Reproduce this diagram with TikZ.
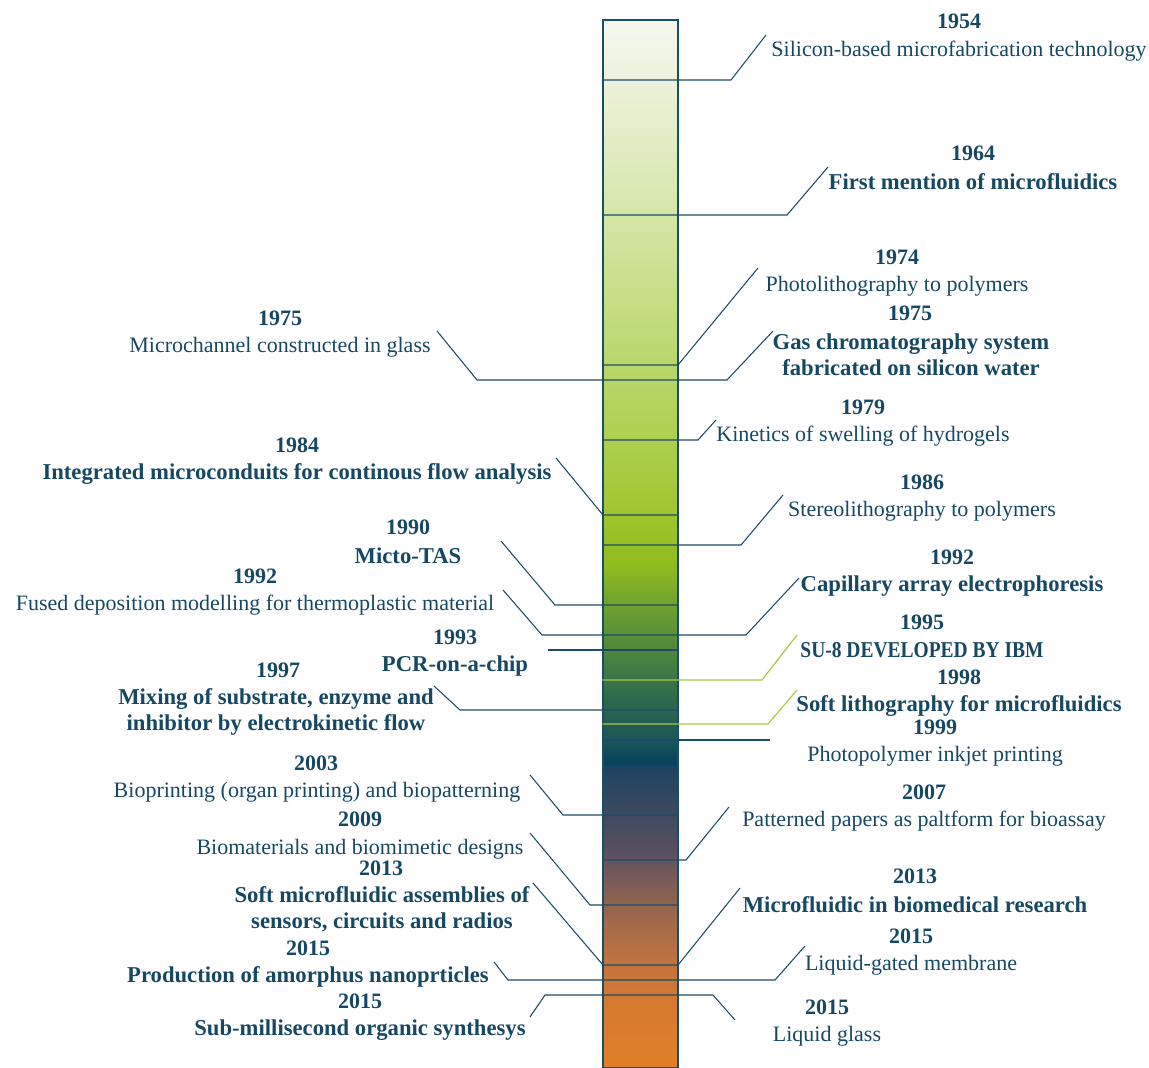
\documentclass[tikz,border=0pt]{standalone}
\usepackage{fontspec}
\setmainfont{Liberation Serif}
\usepackage{tikz}
\usetikzlibrary{positioning,calc}

\definecolor{ink}{HTML}{1B4D66}
\definecolor{inktext}{HTML}{164862}
\definecolor{limeline}{HTML}{A9C94A}
\definecolor{s0}{HTML}{F6F8EF}
\definecolor{s1}{HTML}{ECF2DC}
\definecolor{s2}{HTML}{D5E6A7}
\definecolor{s3}{HTML}{B8D669}
\definecolor{s4}{HTML}{ACD04F}
\definecolor{s5}{HTML}{9EC52E}
\definecolor{s6}{HTML}{8FBC1F}
\definecolor{s7}{HTML}{6FA030}
\definecolor{s8}{HTML}{4E863E}
\definecolor{s9}{HTML}{2E684E}
\definecolor{s10}{HTML}{1A5658}
\definecolor{s11}{HTML}{06405E}
\definecolor{s12}{HTML}{1F4363}
\definecolor{s13}{HTML}{3B4A60}
\definecolor{s14}{HTML}{5A5060}
\definecolor{s15}{HTML}{7A5C57}
\definecolor{s16}{HTML}{A06A4A}
\definecolor{s17}{HTML}{C0733F}
\definecolor{s18}{HTML}{D57A30}
\definecolor{s19}{HTML}{E07F28}

\pgfdeclareverticalshading{timebar}{100bp}{color(0bp)=(s19); color(25bp)=(s19);
  color(28.20bp)=(s18); color(30.11bp)=(s17); color(32.02bp)=(s16); color(33.93bp)=(s15);
  color(35.36bp)=(s14); color(37.27bp)=(s13); color(39.33bp)=(s12); color(39.57bp)=(s11);
  color(40.62bp)=(s10); color(42.53bp)=(s9); color(44.91bp)=(s8); color(47.06bp)=(s7);
  color(48.97bp)=(s6); color(51.36bp)=(s5); color(54.94bp)=(s4); color(58.29bp)=(s3);
  color(65.69bp)=(s2); color(72.13bp)=(s1); color(75bp)=(s0); color(100bp)=(s0)}

\begin{document}
\begin{tikzpicture}[
  x=0.75pt, y=-0.75pt,
  font=\fontsize{16.5}{19.5}\selectfont, text=inktext,
  yr/.style={inner sep=0pt, yshift=-1pt, font=\fontsize{16.5}{19.5}\selectfont\bfseries},
  evt/.style={inner sep=0pt, yshift=-1.5pt, align=center},
  evtb/.style={inner sep=0pt, yshift=-1.5pt, align=center, font=\fontsize{17}{19.5}\selectfont\bfseries},
  link/.style={draw=ink, line width=0.8pt},
  lime/.style={draw=limeline, line width=0.9pt}
]
\useasboundingbox (0,0) rectangle (1149,1067);

\node[draw=ink, line width=0.8pt, shading=timebar, inner sep=0pt,
  minimum width=56.25pt, minimum height=786pt] (bar) at (640.5,544) {};

% right side
\node[yr] (y1954) at (959,20) {1954};
\node[evt] (t1954) at (959,49) {Silicon-based microfabrication technology};
\node[yr] (y1964) at (973,152) {1964};
\node[evtb] (t1964) at (973,180) {First mention of microfluidics};
\node[yr] (y1974) at (897,256) {1974};
\node[evt] (t1974) at (897,284) {Photolithography to polymers};
\node[yr] (y1975b) at (910,312) {1975};
\node[evtb] (t1975b) at (911,353) {Gas chromatography system\\fabricated on silicon water};
\node[yr] (y1979) at (863,406) {1979};
\node[evt] (t1979) at (863,434) {Kinetics of swelling of hydrogels};
\node[yr] (y1986) at (922,481) {1986};
\node[evt] (t1986) at (922,509) {Stereolithography to polymers};
\node[yr] (y1992b) at (952,556) {1992};
\node[evtb] (t1992b) at (952,584) {Capillary array electrophoresis};
\node[yr] (y1995) at (922,621) {1995};
\node[evtb] (t1995) at (922,648) {\scalebox{0.86}[1]{SU-8 DEVELOPED BY IBM}};
\node[yr] (y1998) at (959,676) {1998};
\node[evtb] (t1998) at (959,704) {Soft lithography for microfluidics};
\node[yr] (y1999) at (935,726) {1999};
\node[evt] (t1999) at (935,754) {Photopolymer inkjet printing};
\node[yr] (y2007) at (924,791) {2007};
\node[evt] (t2007) at (924,819) {Patterned papers as paltform for bioassay};
\node[yr] (y2013b) at (915,875) {2013};
\node[evtb] (t2013b) at (915,903) {Microfluidic in biomedical research};
\node[yr] (y2015b) at (911,935) {2015};
\node[evt] (t2015b) at (911,963) {Liquid-gated membrane};
\node[yr] (y2015d) at (827,1006) {2015};
\node[evt] (t2015d) at (827,1034) {Liquid glass};

% left side
\node[yr] (y1975a) at (280,317) {1975};
\node[evt] (t1975a) at (280,345) {Microchannel constructed in glass};
\node[yr] (y1984) at (297,444) {1984};
\node[evtb] (t1984) at (297,472) {Integrated microconduits for continous flow analysis};
\node[yr] (y1990) at (408,526) {1990};
\node[evtb] (t1990) at (408,554) {Micto-TAS};
\node[yr] (y1992a) at (255,575) {1992};
\node[evt] (t1992a) at (255,603) {Fused deposition modelling for thermoplastic material};
\node[yr] (y1993) at (455,636) {1993};
\node[evtb] (t1993) at (455,664) {PCR-on-a-chip};
\node[yr] (y1997) at (278,669) {1997};
\node[evtb] (t1997) at (276,709.5) {Mixing of substrate, enzyme and\\inhibitor by electrokinetic flow};
\node[yr] (y2003) at (316,762) {2003};
\node[evt] (t2003) at (317,790) {Bioprinting (organ printing) and biopatterning};
\node[yr] (y2009) at (360,818) {2009};
\node[evt] (t2009) at (360,847) {Biomaterials and biomimetic designs};
\node[yr] (y2013a) at (381,867) {2013};
\node[evtb] (t2013a) at (382,907.5) {Soft microfluidic assemblies of\\sensors, circuits and radios};
\node[yr] (y2015a) at (308,947) {2015};
\node[evtb] (t2015a) at (308,975) {Production of amorphus nanoprticles};
\node[yr] (y2015c) at (360,1000) {2015};
\node[evtb] (t2015c) at (360,1028) {Sub-millisecond organic synthesys};

% leader lines
\coordinate (k1954) at (731,80);   \coordinate (e1954) at (766,35);
\coordinate (k1964) at (787,215);  \coordinate (e1964) at (828,167);
\coordinate (k1974) at (678,365);  \coordinate (e1974) at (758,268);
\coordinate (k1975a) at (477,380); \coordinate (e1975a) at (437,331);
\coordinate (k1975b) at (727,380); \coordinate (e1975b) at (773,331);
\coordinate (k1979) at (698,440);  \coordinate (e1979) at (716,420);
\coordinate (k1984) at (603,515);  \coordinate (e1984) at (556,458);
\coordinate (k1986) at (741,545);  \coordinate (e1986) at (783,495);
\coordinate (k1990) at (555,605);  \coordinate (e1990) at (501,541);
\coordinate (k1992a) at (542,635); \coordinate (e1992a) at (503,590);
\coordinate (k1992b) at (746,635); \coordinate (e1992b) at (799,578);
\coordinate (k1993) at (548,650);
\coordinate (k1995) at (762,680);  \coordinate (e1995) at (797,635);
\coordinate (k1997) at (460,710);  \coordinate (e1997) at (434,686);
\coordinate (k1998) at (768,724);  \coordinate (e1998) at (797,690);
\coordinate (k1999) at (770,740);
\coordinate (k2003) at (563,815);  \coordinate (e2003) at (530,775);
\coordinate (k2007) at (686,860);  \coordinate (e2007) at (729,807);
\coordinate (k2009) at (590,905);  \coordinate (e2009) at (530,833);
\coordinate (k2013a) at (603,965); \coordinate (e2013a) at (533,883);
\coordinate (k2013b) at (678,965); \coordinate (e2013b) at (740,888);
\coordinate (k2015a) at (508,980); \coordinate (e2015a) at (494,962);
\coordinate (k2015b) at (775,980); \coordinate (e2015b) at (805,946);
\coordinate (k2015c) at (545,995); \coordinate (e2015c) at (530,1017);
\coordinate (k2015d) at (713,995); \coordinate (e2015d) at (735,1020);

\draw[link] (bar.west |- k1954) -- (k1954) -- (e1954);
\draw[link] (bar.west |- k1964) -- (k1964) -- (e1964);
\draw[link] (bar.west |- k1974) -- (k1974) -- (e1974);
\draw[link] (e1975a) -- (k1975a) -- (k1975b) -- (e1975b);
\draw[link] (bar.west |- k1979) -- (k1979) -- (e1979);
\draw[link] (e1984) -- (k1984) -- (bar.east |- k1984);
\draw[link] (bar.west |- k1986) -- (k1986) -- (e1986);
\draw[link] (e1990) -- (k1990) -- (bar.east |- k1990);
\draw[link] (e1992a) -- (k1992a) -- (k1992b) -- (e1992b);
\draw[link] (k1993) -- (bar.east |- k1993);
\draw[lime] (bar.west |- k1995) -- (k1995) -- (e1995);
\draw[link] (e1997) -- (k1997) -- (bar.east |- k1997);
\draw[lime] (bar.west |- k1998) -- (k1998) -- (e1998);
\draw[link] (bar.west |- k1999) -- (k1999);
\draw[link] (e2003) -- (k2003) -- (bar.east |- k2003);
\draw[link] (bar.west |- k2007) -- (k2007) -- (e2007);
\draw[link] (e2009) -- (k2009) -- (bar.east |- k2009);
\draw[link] (e2013a) -- (k2013a) -- (k2013b) -- (e2013b);
\draw[link] (e2015a) -- (k2015a) -- (k2015b) -- (e2015b);
\draw[link] (e2015c) -- (k2015c) -- (k2015d) -- (e2015d);
\end{tikzpicture}
\end{document}
